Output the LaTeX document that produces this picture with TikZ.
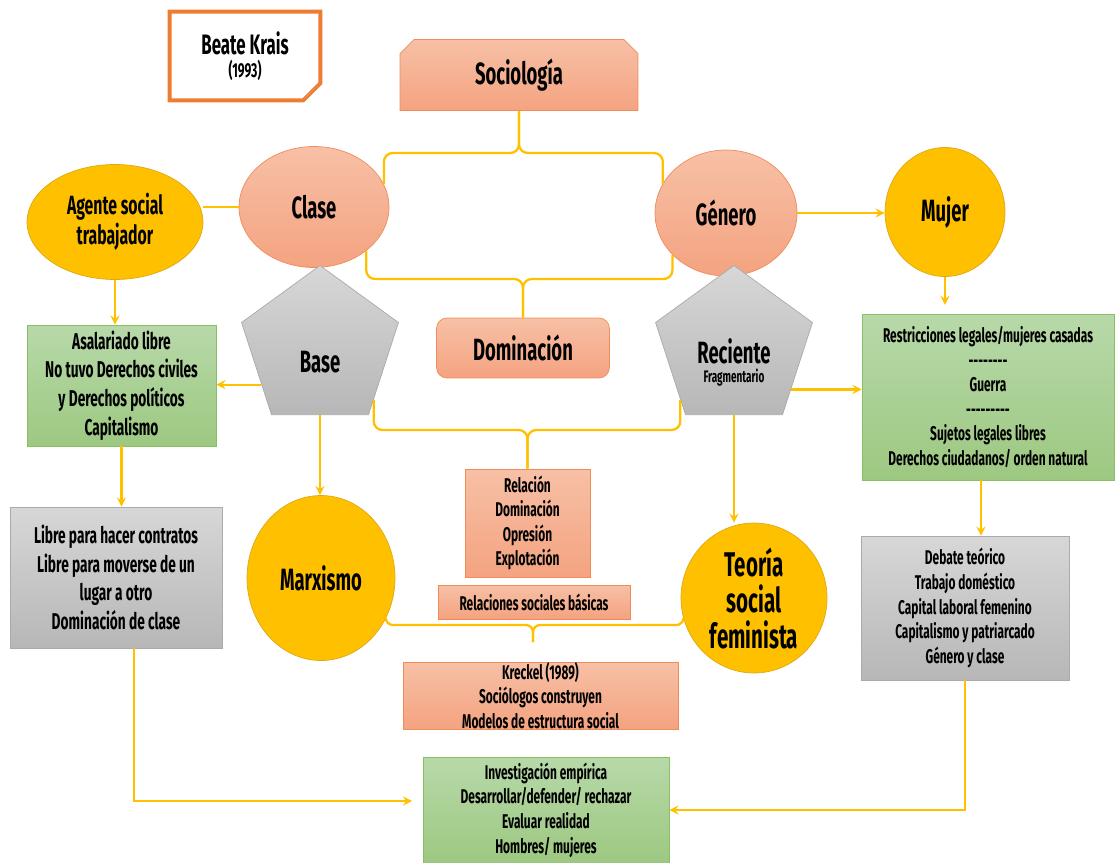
\documentclass[tikz,border=0pt]{standalone}
\usepackage{fontspec}
\setmainfont{Fira Sans}[FakeStretch=0.6]
\usetikzlibrary{shapes.geometric,shapes.misc,positioning}

\definecolor{cSalmonA}{RGB}{247,192,166}
\definecolor{cSalmonB}{RGB}{244,163,128}
\definecolor{cSalmonD}{RGB}{240,140,90}
\definecolor{cAmarillo}{RGB}{255,192,0}
\definecolor{cOroD}{RGB}{222,168,20}
\definecolor{cVerdeA}{RGB}{183,217,169}
\definecolor{cVerdeB}{RGB}{157,200,129}
\definecolor{cVerdeD}{RGB}{137,192,102}
\definecolor{cGrisA}{RGB}{215,215,215}
\definecolor{cGrisB}{RGB}{183,183,183}
\definecolor{cGrisD}{RGB}{170,170,170}
\definecolor{cNaranja}{RGB}{237,125,49}

\newcommand{\grande}{\fontsize{17.5}{20}\bfseries\selectfont}
\newcommand{\medio}{\fontsize{13}{16.3}\bfseries\selectfont}
\newcommand{\chico}{\fontsize{11.3}{14}\bfseries\selectfont}
\newcommand{\rayas}[1]{\foreach \i in {1,...,#1}{-{}}}

\begin{document}
\begin{tikzpicture}[x=0.02cm, y=-0.02cm, > = stealth]
    \tikzstyle{conn}=[draw=cAmarillo, line width=1.3pt]
    \tikzstyle{salmon}=[draw=cSalmonD, top color=cSalmonA, bottom color=cSalmonB]
    \tikzstyle{oro}=[draw=cOroD, fill=cAmarillo]
    \tikzstyle{verde}=[draw=cVerdeD, top color=cVerdeA, bottom color=cVerdeB]
    \tikzstyle{gris}=[draw=cGrisD, top color=cGrisA, bottom color=cGrisB]
    \tikzstyle{elipse}=[ellipse, inner sep=0pt, align=center]
    \tikzstyle{caja}=[rectangle, inner sep=0pt, align=center]
    \tikzstyle{pent}=[regular polygon, regular polygon sides=5, inner sep=0pt, minimum size=3.3cm, gris]

    \useasboundingbox (0,0) rectangle (1115,862);

    % Nodos
    \node[caja, minimum width=3cm, minimum height=1.76cm] (bk) at (245,56)
        {{\fontsize{16}{18}\bfseries\selectfont Beate Krais}\\[1pt]{\fontsize{11.5}{13}\bfseries\selectfont (1993)}};
    \node[chamfered rectangle, chamfered rectangle corners={north west,north east},
        chamfered rectangle xsep=4pt, chamfered rectangle ysep=4pt, inner sep=0pt,
        salmon, minimum width=4.76cm, minimum height=1.42cm, font=\grande] (soc) at (519,75) {Sociología};

    \node[elipse, salmon, minimum width=3cm, minimum height=2.42cm, font=\grande] (clase) at (314,207) {Clase};
    \node[elipse, salmon, minimum width=2.84cm, minimum height=2.52cm, font=\grande] (genero) at (726,213) {Género};
    \node[elipse, oro, minimum width=3.52cm, minimum height=2.3cm, font=\fontsize{15}{17}\bfseries\selectfont] (agente) at (115,222) {Agente social\\trabajador};
    \node[elipse, oro, minimum width=2.4cm, minimum height=2.58cm, font=\grande] (mujer) at (945,212) {Mujer};

    \node[pent, label={[font=\grande, yshift=-8pt]center:Base}] (base) at (320,348) {};
    \node[pent, label={[align=center, yshift=-8pt]center:{\grande Reciente}\\[-1pt]{\fontsize{9.5}{10}\bfseries\selectfont Fragmentario}}] (reciente) at (734,348) {};
    \node[caja, salmon, rounded corners=6pt, minimum width=3.46cm, minimum height=1.2cm, font=\grande] (dom) at (523,348) {Dominación};

    \node[caja, verde, minimum width=3.78cm, minimum height=2.42cm, font=\medio] (verde1) at (121.5,385.5)
        {Asalariado libre\\No tuvo Derechos civiles\\y Derechos políticos\\Capitalismo};
    \node[caja, verde, minimum width=5.04cm, minimum height=3.32cm, font=\chico] (verde2) at (988,397)
        {Restricciones legales/mujeres casadas\\\rayas{8}\\Guerra\\\rayas{9}\\Sujetos legales libres\\Derechos ciudadanos/ orden natural};

    \node[caja, salmon, minimum width=2.5cm, minimum height=2.16cm, font=\chico] (rel) at (527.5,523)
        {Relación\\Dominación\\Opresión\\Explotación};
    \node[caja, salmon, minimum width=3.84cm, minimum height=0.68cm, font=\chico] (rsb) at (534,602) {Relaciones sociales básicas};

    \node[elipse, oro, minimum width=2.96cm, minimum height=3.3cm, font=\grande] (marx) at (321,578) {Marxismo};
    \node[elipse, oro, minimum width=2.92cm, minimum height=3cm, font=\fontsize{19.5}{20.5}\bfseries\selectfont] (teoria) at (754,598) {Teoría\\social\\feminista};

    \node[caja, gris, minimum width=4.24cm, minimum height=2.82cm, font=\medio] (gris1) at (116,577.5)
        {Libre para hacer contratos\\Libre para moverse de un\\lugar a otro\\Dominación de clase};
    \node[caja, gris, minimum width=4.16cm, minimum height=2.88cm, font=\chico] (gris2) at (965,608)
        {Debate teórico\\Trabajo doméstico\\Capital laboral femenino\\Capitalismo y patriarcado\\Género y clase};

    \node[caja, salmon, minimum width=5.5cm, minimum height=1.34cm, font=\chico] (kreckel) at (540.5,695.5)
        {Kreckel (1989)\\Sociólogos construyen\\Modelos de estructura social};
    \node[caja, verde, minimum width=4.92cm, minimum height=2.12cm, font=\chico] (verde3) at (546,810)
        {Investigación empírica\\Desarrollar/defender/ rechazar\\Evaluar realidad\\Hombres/ mujeres};

    % Marco de la nota
    \draw[cNaranja, line width=2.2pt, line join=miter]
        (bk.north west) -- (bk.north east) -- ([yshift=0.34cm]bk.south east)
        -- ([xshift=-0.34cm]bk.south east) -- (bk.south west) -- cycle;
    \fill[cNaranja!80] ([yshift=0.34cm]bk.south east) -- ([xshift=-0.34cm]bk.south east)
        -- ([xshift=-0.26cm, yshift=0.1cm]bk.south east) -- cycle;

    % Conexiones
    \coordinate (b1) at (soc.south |- 0,153);
    \coordinate (b2) at (dom.north |- 0,279);
    \coordinate (b3) at (rel.north |- 0,430);
    \coordinate (b4) at (533,625);
    \coordinate (b4t) at (533,642);

    \draw[conn, rounded corners=5pt] (clase.18) |- (b1) -- (soc.south);
    \draw[conn, rounded corners=5pt] (genero.155) |- (b1) -- (soc.south);
    \draw[conn, rounded corners=5pt] (clase.-40) |- (b2) -- (dom.north);
    \draw[conn, rounded corners=5pt] (genero.218) |- (b2) -- (dom.north);
    \draw[conn, rounded corners=5pt] (base.-44) |- (b3) -- (rel.north);
    \draw[conn, rounded corners=5pt] (reciente.224) |- (b3) -- (rel.north);
    \draw[conn, rounded corners=4pt] (marx.-32) |- (b4) -- (b4t);
    \draw[conn, rounded corners=4pt] (teoria.196) |- (b4) -- (b4t);

    \draw[conn] (clase.west) -- (clase.west -| agente.east);
    \draw[conn,->] (agente.south) -- (agente.south |- verde1.north);
    \draw[conn,->] (base.212) -- (base.212 -| verde1.east);
    \draw[conn,->] (base.south) -- (base.south |- marx.north);
    \draw[conn,->] (reciente.-36) -- (reciente.-36 -| verde2.west);
    \draw[conn,->] (reciente.south) -- (reciente.south |- teoria.north);
    \draw[conn,->] (genero.east) -- (genero.east -| mujer.west);
    \draw[conn,->, shorten >=5pt] (mujer.south) -- (mujer.south |- verde2.north);
    \draw[conn,->] (verde2.south -| 981,0) -- (981,0 |- gris2.north);
    \draw[conn,->] (verde1.south) -- (verde1.south |- gris1.north);
    \draw[conn,->, shorten >=6pt] (gris1.south -| 134,0) |- (verde3.west |- 0,801);
    \draw[conn,->] (gris2.south) |- (verde3.east |- 0,810);
\end{tikzpicture}
\end{document}
